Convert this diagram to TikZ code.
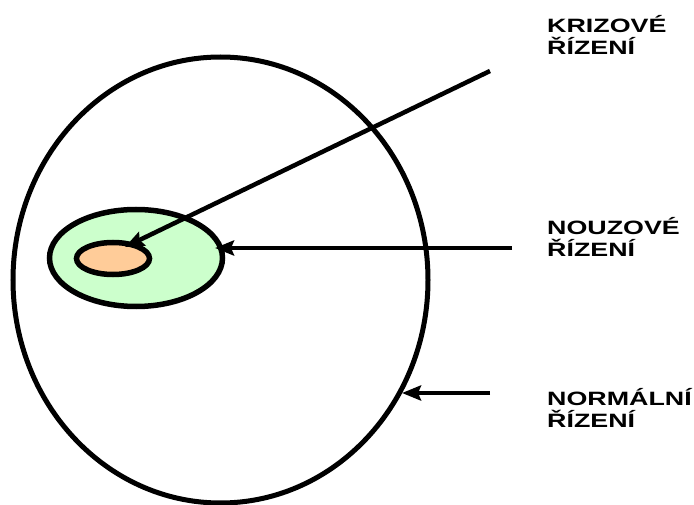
\documentclass[tikz,border=0pt]{standalone}
\usepackage{fontspec}
\newfontfamily\labfont[FakeStretch=1.39]{Liberation Sans}
\usetikzlibrary{shapes.geometric,arrows.meta}
\definecolor{paleg}{HTML}{CCFFCC}
\definecolor{paleo}{HTML}{FFCC99}
\begin{document}
\begin{tikzpicture}[x=1pt,y=-1pt,
  ring/.style={ellipse, draw=black, inner sep=0pt, line width=5pt},
  arr/.style={line width=4.5pt, -{Stealth[length=19pt,width=15pt,inset=3pt]}},
  lab/.style={font=\labfont\bfseries\fontsize{19.3}{22}\selectfont, align=left, inner sep=0pt, anchor=base west}]
\useasboundingbox (0,0) rectangle (694,505);
\node[ring, minimum width=415pt, minimum height=446pt] (big) at (220.5,280) {};
\node[ring, fill=paleg, line width=5.5pt, minimum width=173pt, minimum height=97pt] (green) at (136,258) {};
\node[ring, fill=paleo, line width=5.5pt, minimum width=73pt, minimum height=32pt] (orange) at (113,258.5) {};
\coordinate (kstart) at (490,71);
\coordinate (nstart) at (512,248);
\coordinate (mstart) at (490,393);
\draw[arr] (kstart) -- ([shift={(12,-11.5)}]orange.center);
\draw[arr] (nstart) -- ([shift={(79,-10)}]green.center);
\draw[arr] (mstart) -- ([shift={(181.5,113)}]big.center);
\node[lab] (tk) at (547,55) {KRIZOVÉ\\ŘÍZENÍ};
\node[lab] (tn) at (547,257) {NOUZOVÉ\\ŘÍZENÍ};
\node[lab] (tm) at (547,427) {NORMÁLNÍ\\ŘÍZENÍ};
\end{tikzpicture}
\end{document}
